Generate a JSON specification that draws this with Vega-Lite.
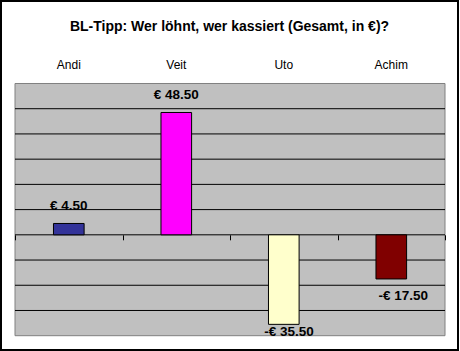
{
  "$schema": "https://vega.github.io/schema/vega-lite/v6.json",
  "width": 457,
  "height": 349,
  "autosize": {"type": "none"},
  "padding": {"left": 1, "top": 1, "right": 2, "bottom": 1},
  "background": "white",
  "config": {
    "view": {"stroke": "black", "strokeWidth": 2, "fill": "white"},
    "font": "Liberation Sans",
    "locale": {"number": {"decimal": ".", "thousands": ",", "grouping": [3], "currency": ["€ ", ""], "minus": "-"}}
  },
  "title": {
    "text": "BL-Tipp: Wer löhnt, wer kassiert (Gesamt, in €)?",
    "font": "Liberation Sans",
    "fontSize": 14,
    "fontWeight": "bold",
    "color": "black",
    "anchor": "middle",
    "offset": -33
  },
  "datasets": {
    "results": [
      {"name": "Andi", "value": 4.5},
      {"name": "Veit", "value": 48.5},
      {"name": "Uto", "value": -35.5},
      {"name": "Achim", "value": -17.5}
    ],
    "grid": [
      {"v": -30}, {"v": -20}, {"v": -10}, {"v": 0}, {"v": 10}, {"v": 20}, {"v": 30}, {"v": 40}, {"v": 50}
    ]
  },
  "resolve": {"scale": {"x": "independent"}, "axis": {"x": "independent"}},
  "layer": [
    {
      "data": {"values": [{}]},
      "mark": {"type": "rect", "fill": "#c0c0c0", "stroke": "#808080", "strokeWidth": 1},
      "encoding": {
        "x": {"datum": 0, "type": "quantitative", "scale": {"domain": [-0.03256, 1.03023], "nice": false, "zero": false}, "axis": null},
        "x2": {"datum": 1},
        "y": {"datum": -40, "type": "quantitative", "scale": {"domain": [-45.67, 92.71], "nice": false, "zero": false}, "axis": null},
        "y2": {"datum": 60}
      }
    },
    {
      "data": {"name": "grid"},
      "mark": {"type": "rule", "color": "black", "strokeWidth": 1},
      "encoding": {
        "x": {"datum": 0, "type": "quantitative", "scale": {"domain": [-0.03256, 1.03023], "nice": false, "zero": false}, "axis": null},
        "x2": {"datum": 1},
        "y": {"field": "v", "type": "quantitative", "axis": null}
      }
    },
    {
      "data": {"name": "results"},
      "mark": {"type": "bar", "width": {"band": 0.285}, "stroke": "black", "strokeWidth": 1},
      "encoding": {
        "x": {
          "field": "name", "type": "nominal", "sort": null,
          "scale": {"domain": ["Andi", "Veit", "Uto", "Achim"], "paddingInner": 0, "paddingOuter": 0.1256, "align": 0.52},
          "axis": {"orient": "top", "offset": -72, "domain": false, "ticks": false, "labelPadding": 2, "labelFontSize": 12, "labelColor": "black", "labelFont": "Liberation Sans", "labelAngle": 0, "title": null, "grid": false, "zindex": 1}
        },
        "y": {"field": "value", "type": "quantitative", "axis": null},
        "color": {
          "field": "name", "type": "nominal",
          "scale": {"domain": ["Andi", "Veit", "Uto", "Achim"], "range": ["#333399", "#ff00ff", "#ffffcc", "#800000"]},
          "legend": null
        }
      }
    },
    {
      "data": {"name": "results"},
      "transform": [{"filter": "datum.value > 0"}],
      "mark": {"type": "text", "font": "Liberation Sans", "fontSize": 13.5, "fontWeight": "bold", "color": "black", "baseline": "middle", "dy": -17},
      "encoding": {
        "x": {
          "field": "name", "type": "nominal", "sort": null,
          "scale": {"domain": ["Andi", "Veit", "Uto", "Achim"], "paddingInner": 0, "paddingOuter": 0.1256, "align": 0.52},
          "axis": {"orient": "bottom", "offset": -115.2, "domain": false, "labels": false, "ticks": true, "tickBand": "extent", "tickSize": 5, "tickColor": "black", "tickWidth": 1, "title": null, "grid": false, "zindex": 1}
        },
        "y": {"field": "value", "type": "quantitative", "axis": null},
        "text": {"field": "value", "type": "quantitative", "format": "$.2f"}
      }
    },
    {
      "data": {"name": "results"},
      "transform": [{"filter": "datum.value < 0 && datum.value > -30"}],
      "mark": {"type": "text", "font": "Liberation Sans", "fontSize": 13.5, "fontWeight": "bold", "color": "black", "baseline": "middle", "dy": 17},
      "encoding": {
        "x": {
          "field": "name", "type": "nominal", "sort": null,
          "scale": {"domain": ["Andi", "Veit", "Uto", "Achim"], "paddingInner": 0, "paddingOuter": 0.1256, "align": 0.52},
          "axis": null
        },
        "y": {"field": "value", "type": "quantitative", "axis": null},
        "text": {"field": "value", "type": "quantitative", "format": "$.2f"}
      }
    },
    {
      "data": {"name": "results"},
      "transform": [{"filter": "datum.value <= -30"}],
      "mark": {"type": "text", "font": "Liberation Sans", "fontSize": 13.5, "fontWeight": "bold", "color": "black", "baseline": "middle", "dy": 8},
      "encoding": {
        "x": {
          "field": "name", "type": "nominal", "sort": null,
          "scale": {"domain": ["Andi", "Veit", "Uto", "Achim"], "paddingInner": 0, "paddingOuter": 0.1256, "align": 0.52},
          "axis": null
        },
        "y": {"field": "value", "type": "quantitative", "axis": null},
        "text": {"field": "value", "type": "quantitative", "format": "$.2f"}
      }
    }
  ]
}
